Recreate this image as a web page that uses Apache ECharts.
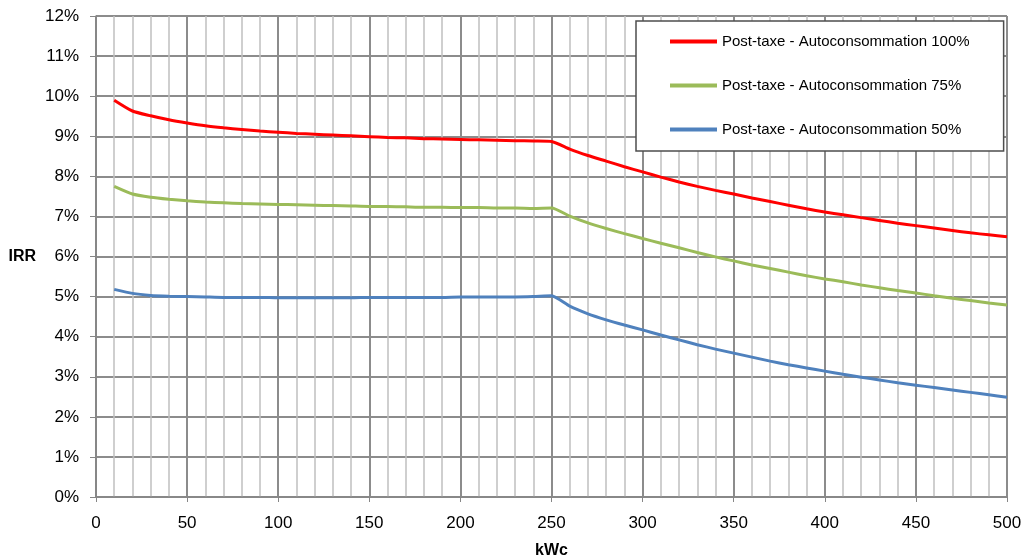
<!DOCTYPE html>
<html>
<head>
<meta charset="utf-8">
<script src="https://cdn.jsdelivr.net/npm/echarts@6/dist/echarts.min.js"></script>
<style>
  html, body { margin: 0; padding: 0; background: #fff; }
  #chart { width: 1028px; height: 559px; }
</style>
</head>
<body>
<div id="chart"></div>
<script>
const kwc = [10, 20, 30, 40, 50, 60, 70, 80, 90, 100,
  110, 120, 130, 140, 150, 160, 170, 180, 190, 200,
  210, 220, 230, 240, 250, 260, 270, 280, 290, 300,
  310, 320, 330, 340, 350, 360, 370, 380, 390, 400,
  410, 420, 430, 440, 450, 460, 470, 480, 490, 500]

const auto100 = [9.90, 9.63, 9.51, 9.41, 9.33, 9.26, 9.21, 9.17, 9.13, 9.10,
  9.07, 9.05, 9.03, 9.01, 8.99, 8.97, 8.96, 8.94, 8.93, 8.92,
  8.91, 8.90, 8.89, 8.88, 8.87, 8.68, 8.52, 8.38, 8.24, 8.11,
  7.98, 7.86, 7.75, 7.65, 7.56, 7.46, 7.37, 7.28, 7.19, 7.11,
  7.04, 6.97, 6.90, 6.83, 6.77, 6.71, 6.65, 6.59, 6.54, 6.49]

const auto75 = [7.75, 7.56, 7.48, 7.43, 7.39, 7.36, 7.34, 7.32, 7.31, 7.30,
  7.29, 7.28, 7.27, 7.26, 7.25, 7.25, 7.24, 7.23, 7.23, 7.22,
  7.22, 7.21, 7.21, 7.20, 7.21, 7.01, 6.84, 6.70, 6.57, 6.45,
  6.33, 6.22, 6.10, 5.99, 5.89, 5.79, 5.70, 5.61, 5.52, 5.44,
  5.37, 5.29, 5.22, 5.15, 5.09, 5.02, 4.96, 4.90, 4.84, 4.79]

const auto50 = [5.18, 5.08, 5.03, 5.01, 5.00, 4.99, 4.98, 4.98, 4.98, 4.97,
  4.97, 4.97, 4.97, 4.97, 4.98, 4.98, 4.98, 4.98, 4.98, 4.99,
  4.99, 4.99, 4.99, 5.00, 5.02, 4.76, 4.57, 4.42, 4.29, 4.17,
  4.04, 3.92, 3.80, 3.69, 3.59, 3.49, 3.39, 3.30, 3.22, 3.14,
  3.06, 2.99, 2.92, 2.85, 2.79, 2.73, 2.67, 2.61, 2.55, 2.49]

const seriesNames = ['Post-taxe - Autoconsommation 100%', 'Post-taxe - Autoconsommation 75%', 'Post-taxe - Autoconsommation 50%']
const seriesColors = ['#ff0000', '#9bbb59', '#4f81bd']
const seriesValues = [auto100, auto75, auto50]

const font = 'Liberation Sans, Arial, sans-serif'

const option = {
  animation: false,
  backgroundColor: '#fff',
  textStyle: { fontFamily: font },
  grid: { left: 96, right: 21, top: 16, bottom: 62, outerBoundsMode: 'none', containLabel: false },
  legend: {
    orient: 'vertical',
    left: 636,
    top: 21,
    padding: [13, 34, 14, 34],
    itemGap: 29,
    icon: 'rect',
    itemWidth: 47,
    itemHeight: 4,
    backgroundColor: '#fff',
    borderColor: '#4d4d4d',
    borderWidth: 1.5,
    data: seriesNames,
    textStyle: { fontFamily: font, fontSize: 15, color: '#000' }
  },
  xAxis: {
    type: 'value',
    min: 0,
    max: 500,
    interval: 50,
    name: 'kWc',
    nameLocation: 'middle',
    nameGap: 46,
    nameTextStyle: { fontFamily: font, fontSize: 16, fontWeight: 'bold', color: '#000' },
    axisLine: { show: true, lineStyle: { color: '#868686', width: 1.5 } },
    axisTick: { show: true, length: 5, lineStyle: { color: '#868686' } },
    axisLabel: { margin: 18, fontFamily: font, fontSize: 17, color: '#000' },
    splitLine: { show: true, lineStyle: { color: '#8c8c8c', width: 2 } },
    minorTick: { show: false, splitNumber: 5 },
    minorSplitLine: { show: true, lineStyle: { color: '#c0c0c0', width: 1.5 } }
  },
  yAxis: {
    type: 'value',
    min: 0,
    max: 12,
    interval: 1,
    name: 'IRR',
    nameLocation: 'middle',
    nameRotate: 0,
    nameGap: 60,
    nameTextStyle: { fontFamily: font, fontSize: 16, fontWeight: 'bold', color: '#000' },
    axisLine: { show: true, lineStyle: { color: '#868686', width: 1.5 } },
    axisTick: { show: true, length: 6, lineStyle: { color: '#868686' } },
    axisLabel: { margin: 17, fontFamily: font, fontSize: 17, color: '#000', formatter: '{value}%' },
    splitLine: { show: true, lineStyle: { color: '#8c8c8c', width: 2 } }
  },
  series: seriesNames.map((name, i) => ({
    name: name,
    type: 'line',
    smooth: 0.2,
    showSymbol: false,
    lineStyle: { color: seriesColors[i], width: 3 },
    itemStyle: { color: seriesColors[i] },
    data: kwc.map((x, j) => [x, seriesValues[i][j]])
  }))
}

const chart = echarts.init(document.getElementById('chart'))
chart.setOption(option)
window.addEventListener('resize', () => chart.resize())
</script>
</body>
</html>
